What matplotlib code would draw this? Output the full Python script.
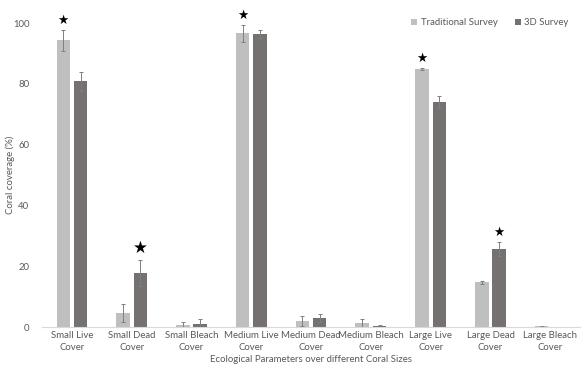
import numpy as np
import matplotlib
matplotlib.use('Agg')
import matplotlib.pyplot as plt

plt.rcParams['font.family'] = ['Lato', 'DejaVu Sans']

categories = ['Small Live\nCover', 'Small Dead\nCover', 'Small Bleach\nCover',
              'Medium Live\nCover', 'Medium Dead\nCover', 'Medium Bleach\nCover',
              'Large Live\nCover', 'Large Dead\nCover', 'Large Bleach\nCover']
trad = [94.3, 4.5, 0.6, 96.6, 1.9, 1.2, 84.9, 14.7, 0.2]
trad_err = [3.5, 3.0, 1.0, 2.7, 1.6, 1.4, 0.3, 0.4, 0.2]
survey3d = [80.8, 17.7, 1.1, 96.4, 3.0, 0.45, 73.9, 25.7, 0.0]
survey3d_err = [3.2, 4.2, 1.4, 1.2, 1.2, 0.3, 2.0, 2.2, 0.0]
# significance stars: (category index, series)
stars = [(0, 'trad'), (1, '3d'), (3, 'trad'), (6, 'trad'), (7, '3d')]

c_trad = '#bfbfbf'
c_3d = '#767171'
txt = '#595959'
fs = 6.9

fig = plt.figure(figsize=(5.86, 3.73), dpi=100)
ax = fig.add_axes([0.0717, 0.1233, 0.9183, 0.815])

x = np.arange(len(categories))
off = 0.145
w = 0.225
ekw = dict(ecolor='#7f7f7f', elinewidth=0.7, capsize=1.5, capthick=0.7)
ax.bar(x - off, trad, w, color=c_trad, yerr=trad_err, error_kw=ekw, label='Traditional Survey')
ax.bar(x + off, survey3d, w, color=c_3d, yerr=survey3d_err, error_kw=ekw, label='3D Survey')

for i, s in stars:
    if s == 'trad':
        xs, top = x[i] - off, trad[i] + trad_err[i]
    else:
        xs, top = x[i] + off, survey3d[i] + survey3d_err[i]
    size = 12 if i == 1 else 9
    ax.text(xs, top + 1.0, '\u2605', ha='center', va='bottom', fontsize=size,
            color='black', family='DejaVu Sans', clip_on=False)

ax.set_xlim(-0.5, len(categories) - 0.5)
ax.set_ylim(0, 100)
ax.set_yticks([0, 20, 40, 60, 80, 100])
ax.set_xticks(x)
ax.set_xticklabels(categories, fontsize=fs, color=txt, linespacing=1.45)
ax.tick_params(axis='y', labelsize=fs, labelcolor=txt, length=0, pad=9)
ax.tick_params(axis='x', length=0, pad=3)
for sp in ['top', 'right', 'left']:
    ax.spines[sp].set_visible(False)
ax.spines['bottom'].set_color('#d9d9d9')
ax.set_ylabel('Coral coverage (%)', fontsize=fs, color=txt)
ax.yaxis.set_label_coords(-0.05, 0.5)
ax.set_xlabel('Ecological Parameters over different Coral Sizes', fontsize=fs, color=txt, labelpad=2)

leg = ax.legend(loc='upper right', bbox_to_anchor=(0.995, 1.045), ncol=2, frameon=False,
                fontsize=fs, handlelength=0.6, handleheight=0.6, handletextpad=0.4,
                columnspacing=1.8)
for t in leg.get_texts():
    t.set_color(txt)

fig.savefig('out.png', dpi=100)
